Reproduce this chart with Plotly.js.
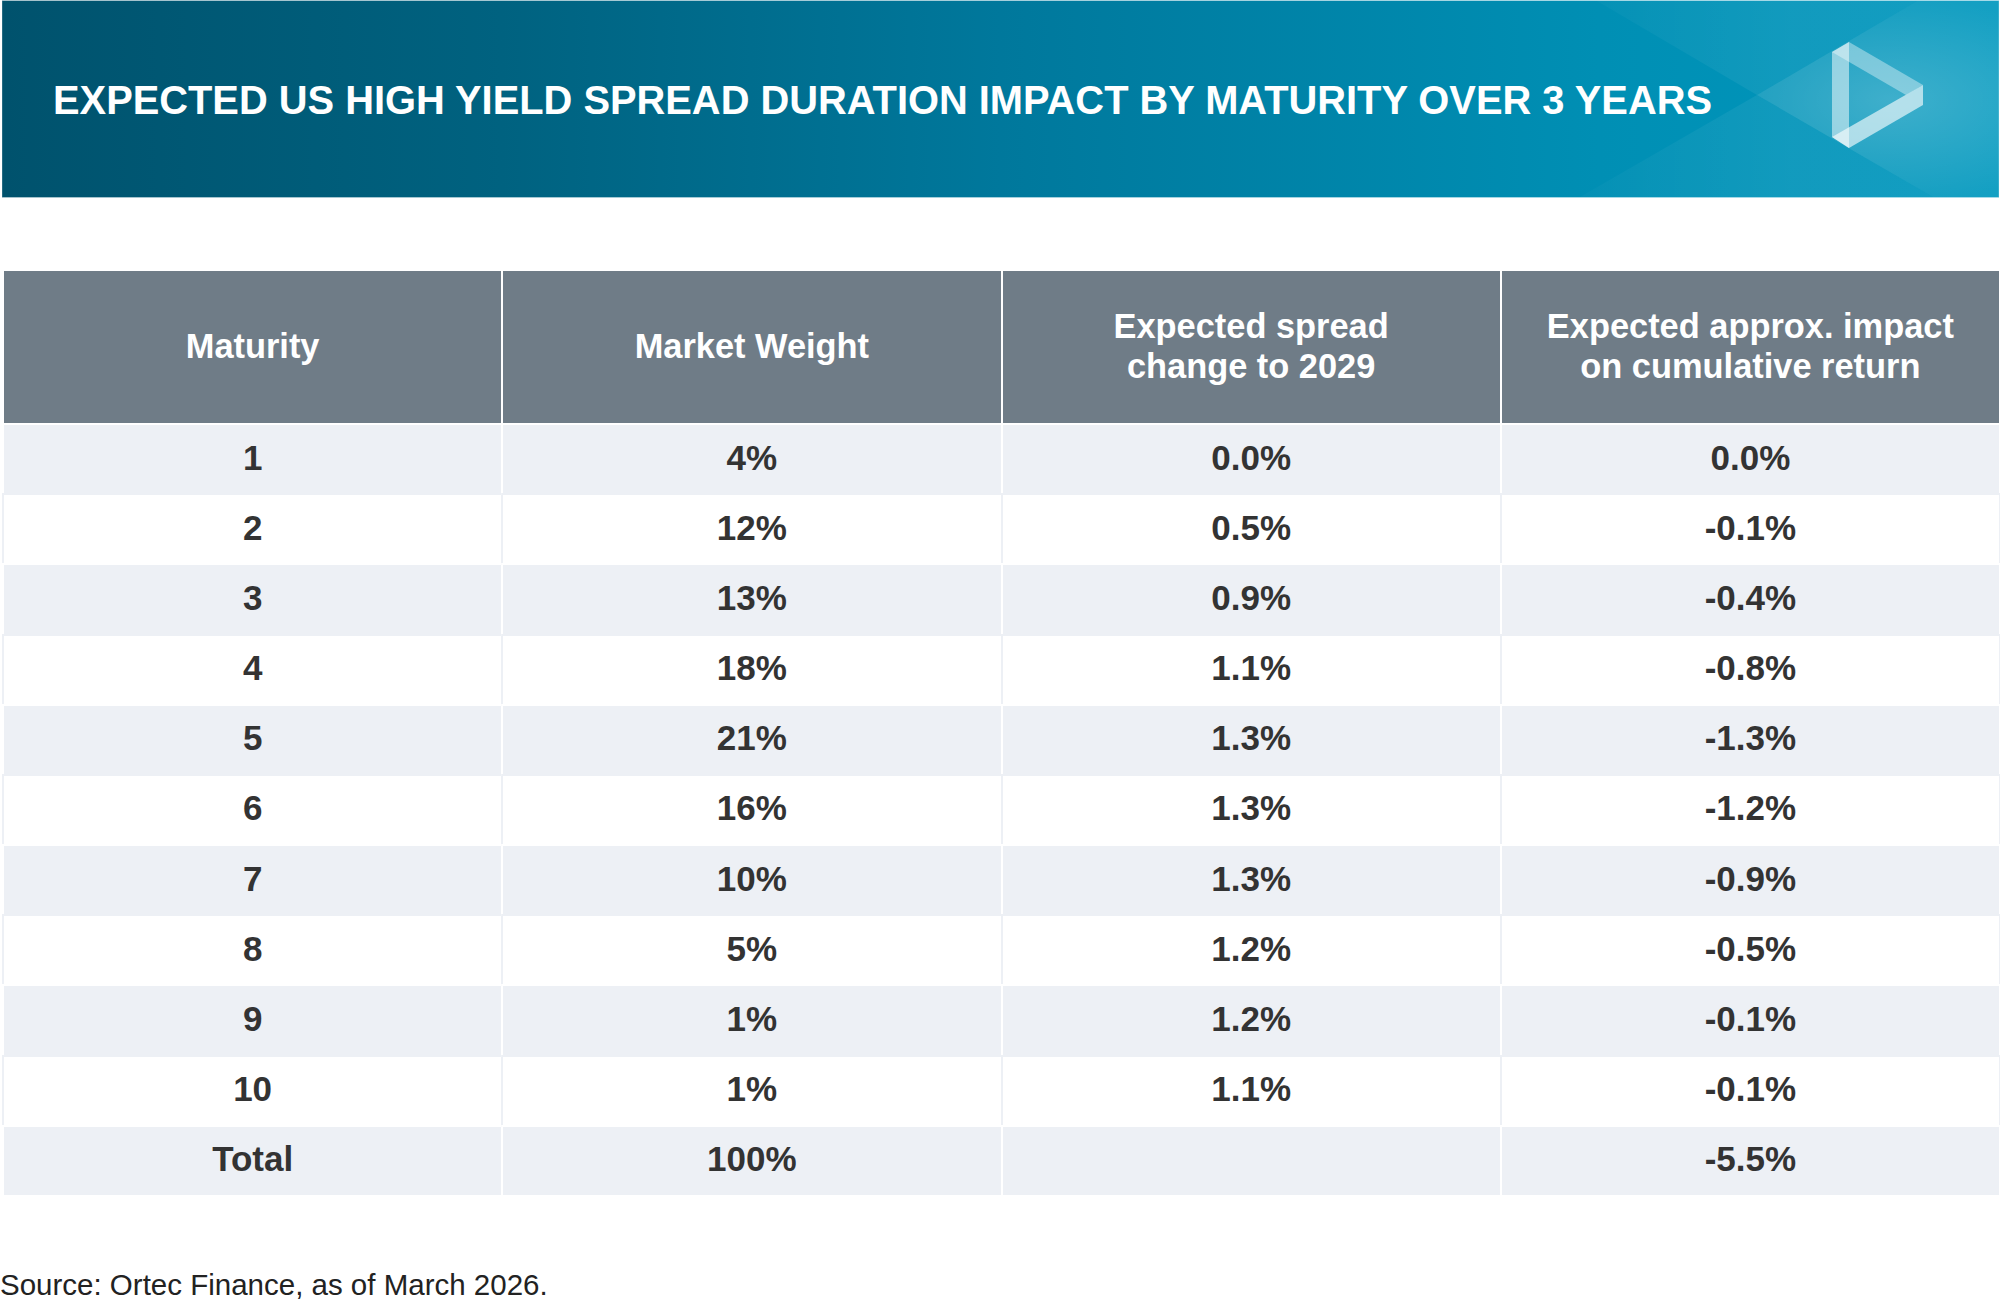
<!DOCTYPE html>
<html><head><meta charset="utf-8">
<script src="https://cdn.plot.ly/plotly-3.0.1.min.js"></script>
<style>html,body{margin:0;padding:0;background:#fff}#chart{width:2000px;height:1300px}</style>
</head><body><div id="chart"></div>
<script>
const chartTitle = "EXPECTED US HIGH YIELD SPREAD DURATION IMPACT BY MATURITY OVER 3 YEARS";
const sourceNote = "Source: Ortec Finance, as of March 2026.";
const headers = ["Maturity","Market Weight","Expected spread<br>change to 2029","Expected approx. impact<br>on cumulative return"];
const maturity = ["1","2","3","4","5","6","7","8","9","10","Total"];
const marketWeight = ["4%","12%","13%","18%","21%","16%","10%","5%","1%","1%","100%"];
const spreadChange = ["0.0%","0.5%","0.9%","1.1%","1.3%","1.3%","1.3%","1.2%","1.2%","1.1%",""];
const cumulativeImpact = ["0.0%","-0.1%","-0.4%","-0.8%","-1.3%","-1.2%","-0.9%","-0.5%","-0.1%","-0.1%","-5.5%"];

const W = 2000, H = 1300;
const px = x => x / W, py = y => 1 - y / H;
const poly = pts => "M" + pts.map(p => px(p[0]) + "," + py(p[1])).join("L") + "Z";
const deco = (pts, color) => ({type:"path", xref:"paper", yref:"paper", path:poly(pts), fillcolor:color, line:{width:0}, layer:"below"});

const bannerSvg = `<svg xmlns="http://www.w3.org/2000/svg" width="2000" height="198"><defs>
<linearGradient id="g" x1="0" x2="1" y1="0" y2="0"><stop offset="0" stop-color="#00526d"/><stop offset="0.25" stop-color="#006280"/><stop offset="0.5" stop-color="#00789c"/><stop offset="0.8" stop-color="#008fb4"/><stop offset="1" stop-color="#0098be"/></linearGradient>
<linearGradient id="f" gradientUnits="userSpaceOnUse" x1="1590" x2="1790" y1="0" y2="0"><stop offset="0" stop-color="#fff" stop-opacity="0.02"/><stop offset="1" stop-color="#fff" stop-opacity="0.07"/></linearGradient>
<radialGradient id="r" gradientUnits="userSpaceOnUse" cx="0" cy="0" r="1" gradientTransform="translate(1890 100) scale(210 105)"><stop offset="0" stop-color="#fff" stop-opacity=".18"/><stop offset="1" stop-color="#fff" stop-opacity="0"/></radialGradient>
</defs>
<rect x="2" y="0.5" width="1997" height="197" fill="url(#g)" stroke="#ffffff" stroke-opacity=".3" stroke-width="1"/>
<polygon points="1597,1 1917,1 1757,95" fill="url(#f)"/>
<polygon points="1580,197 1933,197 1757,95" fill="url(#f)"/>
<polygon points="1757,95 1917,1 1999,1 1999,197 1933,197" fill="#ffffff" fill-opacity=".08"/>
<polygon points="1757,95 1917,1 1999,1 1999,197 1933,197" fill="url(#r)"/>
</svg>`;

const cellColors = maturity.map((_, i) => i % 2 === 0 ? "#edf0f5" : "#ffffff");
const lineColors = maturity.map((_, i) => i % 2 === 0 ? "#ffffff" : "#edf0f5");

const trace = {
  type: "table",
  domain: {x:[px(3), px(2000)], y:[py(1197), py(270)]},
  columnwidth: [1,1,1,1],
  header: {values: headers.map(h => [h]), height: 154, align: "center",
    font: {family:"Liberation Sans", size:34.4, color:"#ffffff", weight:"bold"},
    fill: {color:"#6f7c87"}, line: {color:"#ffffff", width:2}},
  cells: {values: [maturity, marketWeight, spreadChange, cumulativeImpact], height: 70.18, align: "center",
    font: {family:"Liberation Sans", size:35, color:"#333333", weight:"bold"},
    fill: {color:[cellColors,cellColors,cellColors,cellColors]},
    line: {color:[lineColors,lineColors,lineColors,lineColors], width:2}}
};

const layout = {
  width: W, height: H, margin: {l:0,r:0,t:0,b:0}, paper_bgcolor:"#ffffff", showlegend:false,
  title: {text: chartTitle, x: 53/W, xanchor:"left", xref:"paper", y: py(100), yanchor:"middle",
    font:{family:"Liberation Sans", size:39.84, color:"#ffffff", weight:"bold"}},
  images: [{source:"data:image/svg+xml;utf8,"+encodeURIComponent(bannerSvg), xref:"paper", yref:"paper",
    x:0, y:1, sizex:1, sizey:198/H, xanchor:"left", yanchor:"top", sizing:"stretch", layer:"below"}],
  shapes: [
    deco([[1849,42],[1923,85],[1906,95],[1832,52]], "rgba(255,255,255,0.38)"),
    deco([[1849,42],[1849,148],[1832,137],[1832,52]], "rgba(255,255,255,0.5)"),
    deco([[1923,85],[1923,105],[1849,148],[1832,137]], "rgba(255,255,255,0.62)")
  ],
  annotations: [{text: sourceNote, xref:"paper", yref:"paper", x:0, xshift:-2, y:py(1284), xanchor:"left", yanchor:"middle",
    showarrow:false, font:{family:"Liberation Sans", size:29.5, color:"#222222"}}]
};

// Plotly tables top-align cell text and left-align wrapped lines: centre each line in its cell.
const HEADER_LINE_GAP = 40, BASELINE_OFFSET = 10.5;
function centreCellText() {
  document.querySelectorAll("#chart .cell-text").forEach(text => {
    const cell = text.closest(".column-cell");
    const rect = cell && cell.querySelector(".cell-rect");
    if (!rect || !text.getNumberOfChars()) return;
    const box = rect.getBoundingClientRect(), ctm = text.getScreenCTM();
    const tspans = [...text.querySelectorAll("tspan.line")];
    const lines = tspans.length ? tspans : [text];
    const midX = (box.left + box.right) / 2, midY = (box.top + box.bottom) / 2;
    text.style.textAnchor = "middle";
    lines.forEach((ln, i) => {
      const target = midY + BASELINE_OFFSET + (i - (lines.length - 1) / 2) * HEADER_LINE_GAP;
      ln.removeAttribute("dy"); ln.removeAttribute("dx");
      ln.setAttribute("x", (midX - ctm.e) / ctm.a);
      ln.setAttribute("y", (target - ctm.f) / ctm.d);
    });
  });
}
Plotly.newPlot("chart", [trace], layout, {displayModeBar:false, staticPlot:true}).then(() => {
  centreCellText();
  requestAnimationFrame(centreCellText);
  setTimeout(centreCellText, 100);
});
</script></body></html>
